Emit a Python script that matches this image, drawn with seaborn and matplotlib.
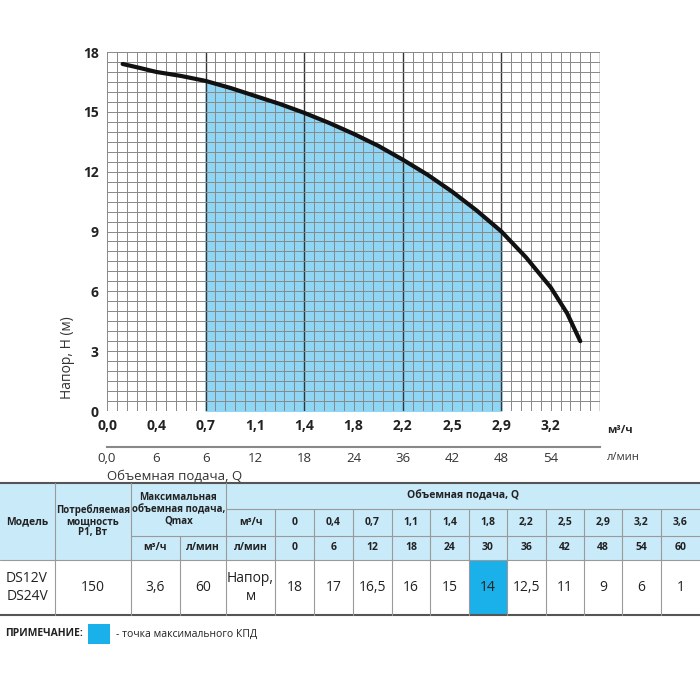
import matplotlib
matplotlib.use("Agg")
import matplotlib.pyplot as plt
import seaborn as sns
import numpy as np
import pandas as pd
from matplotlib.patches import Rectangle

sns.set_style("white")
plt.rcParams["font.family"] = ["Open Sans", "DejaVu Sans"]

# curve (x in l/min, head in m)
curve_q = [1.9, 4, 6, 9, 12, 15, 18, 21, 24, 27, 30, 33, 36, 39, 42, 45, 48, 51, 54, 56, 57.6]
curve_h = [17.4, 17.2, 17.0, 16.8, 16.55, 16.2, 15.8, 15.4, 14.95, 14.45, 13.9, 13.3, 12.6, 11.85, 11.0, 10.05, 9.0, 7.7, 6.2, 4.9, 3.5]
fill_from, fill_to = 12, 48

tick_pos = [0, 6, 12, 18, 24, 30, 36, 42, 48, 54]
tick_m3h = ["0,0", "0,4", "0,7", "1,1", "1,4", "1,8", "2,2", "2,5", "2,9", "3,2"]
tick_lmin = ["0,0", "6", "6", "12", "18", "24", "36", "42", "48", "54"]

# table data
tab_m3h = ["0", "0,4", "0,7", "1,1", "1,4", "1,8", "2,2", "2,5", "2,9", "3,2", "3,6"]
tab_lmin = ["0", "6", "12", "18", "24", "30", "36", "42", "48", "54", "60"]
tab_head = ["18", "17", "16,5", "16", "15", "14", "12,5", "11", "9", "6", "1"]
best_idx = 5

fig = plt.figure(figsize=(7, 7), dpi=100)
ax = fig.add_axes([107 / 700, 1 - 411 / 700, 493 / 700, 359 / 700])

df = pd.DataFrame({"q": curve_q, "h": curve_h})
qq = np.linspace(fill_from, fill_to, 200)
hh = np.interp(qq, curve_q, curve_h)
ax.fill_between(qq, 0, hh, color="#8fd6f5", zorder=1)

for x in np.arange(0, 60.01, 1.2):
    dark = abs(x % 12) < 1e-6 and x > 0
    ax.axvline(x, color="#333333" if dark else "#888888", lw=1.0 if dark else 0.7, zorder=2)
for y in np.arange(0, 18.01, 0.5):
    ax.axhline(y, color="#888888", lw=0.7, zorder=2)

sns.lineplot(data=df, x="q", y="h", ax=ax, color="#111111", lw=3, zorder=3)
ax.set_xlim(0, 60)
ax.set_ylim(0, 18)
ax.set_xticks(tick_pos)
ax.set_xticklabels(tick_m3h, fontsize=10, fontweight="bold", color="#222222")
ax.set_yticks([0, 3, 6, 9, 12, 15, 18])
ax.set_yticklabels(["0", "3", "6", "9", "12", "15", "18"], fontsize=10, fontweight="bold", color="#222222")
ax.tick_params(length=0, pad=6)
ax.set_xlabel("")
ax.set_ylabel("Напор, Н (м)", fontsize=10, color="#333333")
ax.yaxis.set_label_coords(-0.065, 0.15)
for s in ax.spines.values():
    s.set_visible(False)
ax.text(1.015, -0.055, "м³/ч", transform=ax.transAxes, fontsize=8, fontweight="bold", ha="left", va="center")

sec = ax.secondary_xaxis(-0.1)
sec.set_xticks(tick_pos)
sec.set_xticklabels(tick_lmin, fontsize=9.5, color="#333333")
sec.tick_params(length=0, pad=4)
sec.spines["bottom"].set_color("#888888")
sec.spines["bottom"].set_linewidth(1.5)
ax.text(1.015, -0.13, "л/мин", transform=ax.transAxes, fontsize=8, ha="left", va="center", color="#333333")
ax.text(0.0, -0.165, "Объемная подача, Q", transform=ax.transAxes, fontsize=9.5, ha="left", va="top", color="#333333")

# table in pixel coordinates
tx = fig.add_axes([0, 0, 1, 1])
tx.set_xlim(0, 700)
tx.set_ylim(700, 0)
tx.axis("off")
hdr = "#c8eaf9"
top, r1, r2, r3, bot = 483, 509, 536, 560, 615
cols = [0, 55, 131, 180, 226, 275, 314, 353, 392, 430, 469, 507, 546, 584, 622, 661, 700]
tx.add_patch(Rectangle((0, top), 700, r3 - top, color=hdr, lw=0))
tx.add_patch(Rectangle((cols[5 + best_idx], r3), cols[6 + best_idx] - cols[5 + best_idx], bot - r3, color="#1ab0ea", lw=0))
lc = "#9a9a9a"
tx.plot([0, 700], [top, top], color="#555555", lw=1.5)
tx.plot([0, 700], [bot, bot], color="#555555", lw=1.5)
tx.plot([0, 700], [r3, r3], color=lc, lw=0.8)
tx.plot([cols[4], 700], [r1, r1], color=lc, lw=0.8)
tx.plot([cols[2], 700], [r2, r2], color=lc, lw=0.8)
for i, c in enumerate(cols[1:-1], start=1):
    y0 = top
    if i == 3:
        y0 = r2
    elif i >= 5:
        y0 = r1
    tx.plot([c, c], [y0, bot], color=lc, lw=0.8)

b = dict(fontsize=7.5, fontweight="bold", ha="center", va="center", color="#222222")
tx.text(cols[0] + 27, (top + r3) / 2, "Модель", **b)
tx.text((cols[1] + cols[2]) / 2, (top + r3) / 2, "Потребляемая\nмощность\nР1, Вт", linespacing=1.0,
        **{**b, "fontsize": 7})
tx.text((cols[2] + cols[4]) / 2, (top + r2) / 2, "Максимальная\nобъемная подача,\nQmax", linespacing=1.1,
        **{**b, "fontsize": 7})
tx.text((cols[2] + cols[3]) / 2, (r2 + r3) / 2, "м³/ч", **b)
tx.text((cols[3] + cols[4]) / 2, (r2 + r3) / 2, "л/мин", **b)
tx.text((cols[4] + 700) / 2, (top + r1) / 2, "Объемная подача, Q", **b)
tx.text((cols[4] + cols[5]) / 2, (r1 + r2) / 2, "м³/ч", **b)
tx.text((cols[4] + cols[5]) / 2, (r2 + r3) / 2, "л/мин", **b)
for j in range(len(tab_m3h)):
    cx = (cols[5 + j] + cols[6 + j]) / 2
    tx.text(cx, (r1 + r2) / 2, tab_m3h[j], **b)
    tx.text(cx, (r2 + r3) / 2, tab_lmin[j], **b)
    tx.text(cx, (r3 + bot) / 2, tab_head[j], fontsize=10, ha="center", va="center", color="#222222")

n = dict(fontsize=10, ha="center", va="center", color="#222222")
tx.text(27, (r3 + bot) / 2, "DS12V\nDS24V", linespacing=1.2, **n)
tx.text((cols[1] + cols[2]) / 2, (r3 + bot) / 2, "150", **n)
tx.text((cols[2] + cols[3]) / 2, (r3 + bot) / 2, "3,6", **n)
tx.text((cols[3] + cols[4]) / 2, (r3 + bot) / 2, "60", **n)
tx.text((cols[4] + cols[5]) / 2, (r3 + bot) / 2, "Напор,\nм", linespacing=1.2, **n)

tx.text(5, 634, "ПРИМЕЧАНИЕ:", fontsize=7.5, fontweight="bold", ha="left", va="center", color="#222222")
tx.add_patch(Rectangle((88, 624), 22, 20, color="#1ab0ea", lw=0))
tx.text(116, 634, "- точка максимального КПД", fontsize=7.5, ha="left", va="center", color="#222222")

fig.savefig("out.png", dpi=100)
